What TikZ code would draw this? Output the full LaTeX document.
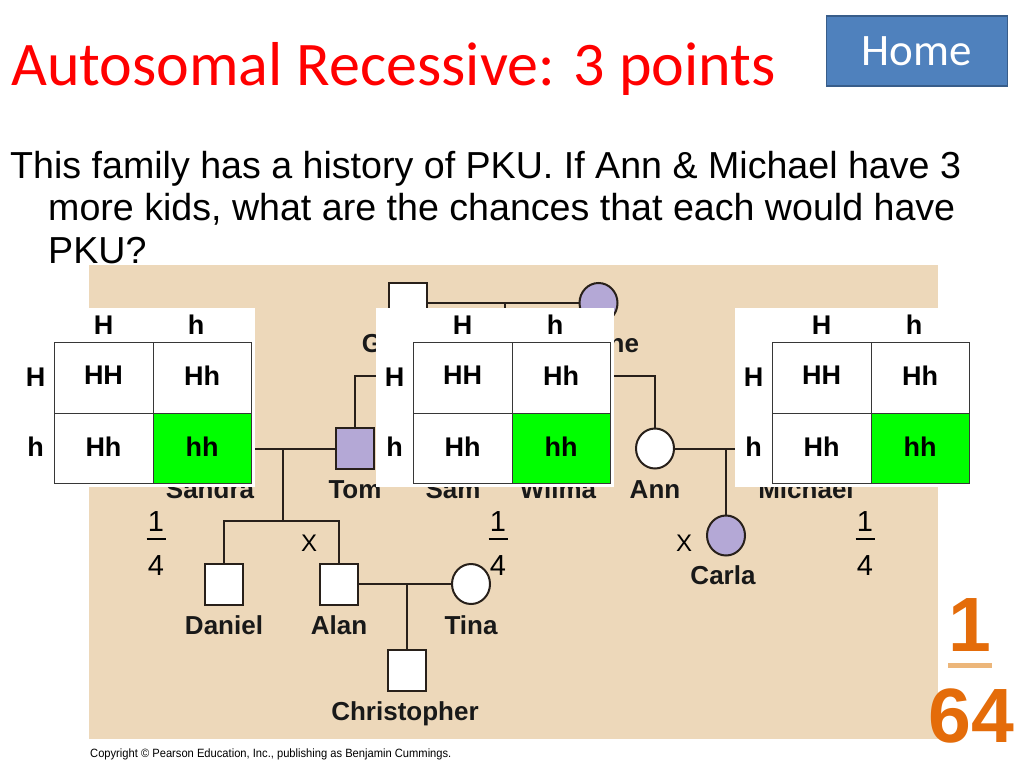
\documentclass[tikz,border=0pt]{standalone}
\usepackage{fontspec}
\setmainfont{Liberation Sans}
\newfontfamily\calibri{Carlito}
\usetikzlibrary{shapes.geometric}
\definecolor{bgtan}{RGB}{237,216,186}
\definecolor{pedline}{RGB}{40,32,26}
\definecolor{lav}{RGB}{180,168,214}
\definecolor{homeblue}{RGB}{79,129,189}
\definecolor{homeedge}{RGB}{56,93,138}
\definecolor{pgreen}{RGB}{0,255,0}
\definecolor{orng}{RGB}{228,108,10}
\definecolor{bartan}{RGB}{236,182,122}
\definecolor{gridc}{RGB}{55,55,55}
\newcommand\punnettsq[2]{%
  \begin{scope}[shift={(#1,0)}]
    \fill[white] (-37,308) rectangle (201,487);
    \fill[pgreen] (99,413) rectangle (197,483);
    \draw[gridline] (0,342) rectangle (197,483);
    \draw[gridline] (99,342) -- (99,483);
    \draw[gridline] (0,413) -- (197,413);
    \node[ptext] (#2colH) at (49.5,325) {H};
    \node[ptext] (#2colh) at (142,325) {h};
    \node[ptext] (#2rowH) at (-18.5,377) {H};
    \node[ptext] (#2rowh) at (-18.5,447) {h};
    \node[ptext] (#2HH) at (49.5,375) {HH};
    \node[ptext] (#2Hh) at (148,376) {Hh};
    \node[ptext] (#2hH) at (49.5,447) {Hh};
    \node[ptext] (#2hh) at (148,447) {hh};
  \end{scope}}
\begin{document}
\begin{tikzpicture}[x=1pt,y=-1pt,
  sq/.style={rectangle, draw=pedline, line width=2pt, minimum width=38pt, minimum height=41pt, inner sep=0pt, fill=white},
  circ/.style={ellipse, draw=pedline, line width=2pt, minimum width=38pt, minimum height=40pt, inner sep=0pt, fill=white},
  aff/.style={fill=lav},
  lbl/.style={anchor=base, inner sep=0pt, font=\bfseries\fontsize{26}{26}\selectfont, text=black!90},
  pline/.style={draw=pedline, line width=2pt},
  ptext/.style={inner sep=0pt, font=\bfseries\fontsize{27}{27}\selectfont},
  gridline/.style={draw=gridc, line width=1pt},
  fracdig/.style={inner sep=0pt, font=\fontsize{29}{29}\selectfont},
  fracbar/.style={line width=1.6pt},
  xmark/.style={inner sep=0pt, font=\fontsize{24}{24}\selectfont},
  bodytext/.style={anchor=base west, inner sep=0pt, font=\fontsize{37.6}{42}\selectfont}
]
\useasboundingbox (0,0) rectangle (1024,768);
\fill[white] (0,0) rectangle (1024,768);

% title and home button
\node[anchor=base west, inner sep=0pt, text=red, font=\calibri\fontsize{62}{62}\selectfont] (title) at (11,85) {Autosomal Recessive: 3 points};
\node[draw=homeedge, fill=homeblue, line width=1.5pt, minimum width=181pt, minimum height=70pt, inner sep=0pt, text=white, font=\calibri\fontsize{45}{45}\selectfont] (home) at (917,51) {Home};

% question
\node[bodytext] (q1) at (10,178) {This family has a history of PKU. If Ann \& Michael have 3};
\node[bodytext] (q2) at (48,220) {more kids, what are the chances that each would have};
\node[bodytext] (q3) at (48,263) {PKU?};

% pedigree background
\fill[bgtan] (89,265) rectangle (938,739);

% pedigree symbols
\node[sq] (george) at (407.5,303) {};
\node[circ, aff] (arlene) at (598.5,303) {};
\node[circ] (sandra) at (210,448.5) {};
\node[sq, aff] (tom) at (355,448.5) {};
\node[circ] (ann) at (655,448.5) {};
\node[sq] (michael) at (806,448.5) {};
\node[sq] (daniel) at (224,584) {};
\node[sq] (alan) at (339,584) {};
\node[circ] (tina) at (471,584) {};
\node[sq] (christopher) at (407,670) {};
\node[circ, aff] (carla) at (726,535.5) {};

% junctions
\coordinate (ga) at (505,303);
\coordinate (gasib) at (505,376);
\coordinate (st) at (283,448.5);
\coordinate (stsib) at (283,521);
\coordinate (at) at (407,584);
\coordinate (am) at (726,448.5);

% pedigree lines
\draw[pline] (george) -- (arlene);
\draw[pline] (ga) -- (gasib);
\draw[pline] (tom.north) |- (gasib) -| (ann.north);
\draw[pline] (sandra) -- (tom);
\draw[pline] (st) -- (stsib);
\draw[pline] (daniel.north) |- (stsib) -| (alan.north);
\draw[pline] (alan) -- (tina);
\draw[pline] (at) -- (christopher.north);
\draw[pline] (ann) -- (michael);
\draw[pline] (am) -- (carla.north);

% names
\node[lbl] (georgel) at (407.5,352) {George};
\node[lbl] (arlenel) at (598.5,352) {Arlene};
\node[lbl] (sandral) at (210,498) {Sandra};
\node[lbl] (toml) at (355,498) {Tom};
\node[lbl] (saml) at (453,498) {Sam};
\node[lbl] (wilmal) at (558,498) {Wilma};
\node[lbl] (annl) at (655,498) {Ann};
\node[lbl] (michaell) at (806,498) {Michael};
\node[lbl] (daniell) at (224,634) {Daniel};
\node[lbl] (alanl) at (339,634) {Alan};
\node[lbl] (tinal) at (471,634) {Tina};
\node[lbl] (christopherl) at (405,720) {Christopher};
\node[lbl] (carlal) at (723,584) {Carla};

% Punnett squares
\punnettsq{54}{pl}
\punnettsq{413}{pm}
\punnettsq{772}{pr}

% fractions
\node[fracdig] (f1n) at (156,522) {1};
\node[fracdig] (f1d) at (156,566) {4};
\draw[fracbar] (146.5,539) -- (165.5,539);
\node[fracdig] (f2n) at (498,522) {1};
\node[fracdig] (f2d) at (498,566) {4};
\draw[fracbar] (488.5,539) -- (507.5,539);
\node[fracdig] (f3n) at (865,522) {1};
\node[fracdig] (f3d) at (865,566) {4};
\draw[fracbar] (855.5,539) -- (874.5,539);

% x marks
\node[xmark] (x1) at (309,543) {X};
\node[xmark] (x2) at (684,543) {X};

% result
\node[inner sep=0pt, text=orng, font=\bfseries\fontsize{77}{77}\selectfont] (res1) at (970,625) {1};
\draw[draw=bartan, line width=5pt] (948,665) -- (992,665);
\node[inner sep=0pt, text=orng, font=\bfseries\fontsize{77}{77}\selectfont] (res64) at (971,715.5) {64};

% copyright
\node[anchor=base west, inner sep=0pt, font=\fontsize{12}{12}\selectfont] (copy) at (90,757) {\scalebox{0.93}[1]{Copyright © Pearson Education, Inc., publishing as Benjamin Cummings.}};
\end{tikzpicture}
\end{document}
